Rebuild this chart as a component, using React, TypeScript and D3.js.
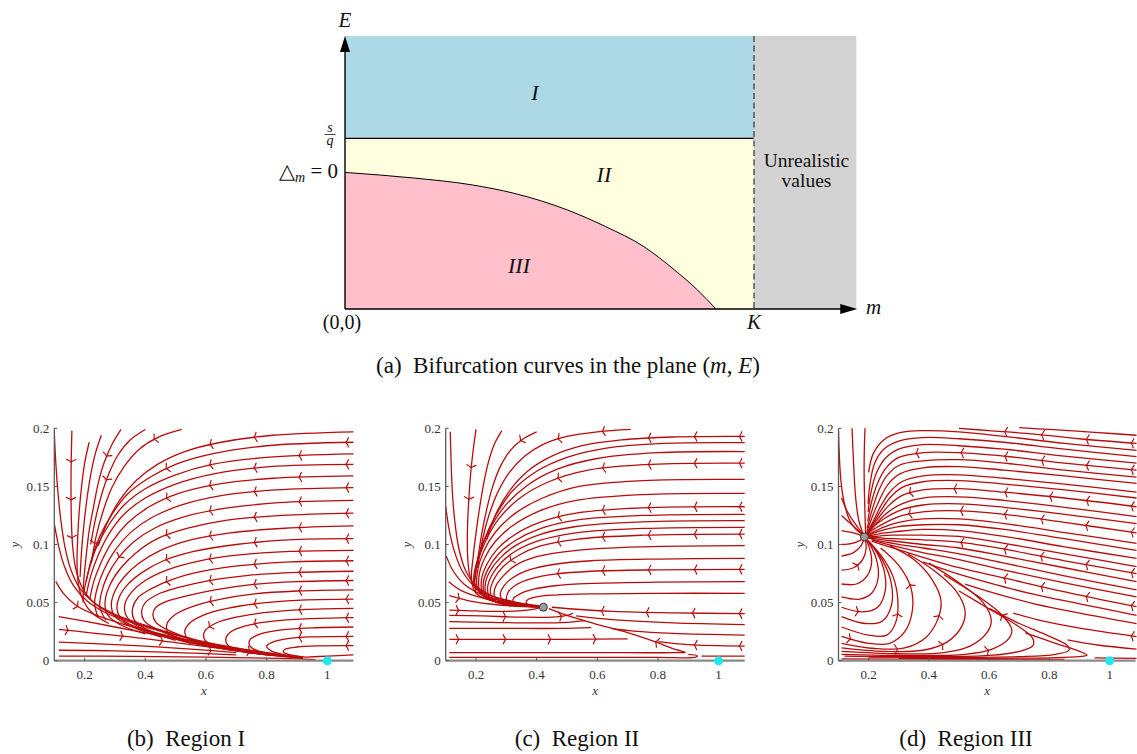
import React, { useEffect, useRef } from 'react';
import * as d3 from 'd3';

type Pt = [number, number];
interface Stream { pts: Pt[]; ax?: number[]; ay?: number[] }

// ---------- (a) bifurcation diagram, plane (m, E) ----------
const mMax = 1.25;
const eMax = 1.6;
const kValue = 1;
const sOverQ = 1;
const deltaCurve: Pt[] = [
  [0, 0.8], [0.17, 0.767], [0.311, 0.727], [0.413, 0.678], [0.544, 0.58],
  [0.637, 0.483], [0.731, 0.365], [0.806, 0.228], [0.862, 0.111], [0.907, 0],
];
const regionNames = ['I', 'II', 'III'];
const regionLabelPos: Pt[] = [[0.4645, 1.224], [0.633, 0.744], [0.4254, 0.211]];

// ---------- (b)-(d) phase portraits ----------
const xDomain: [number, number] = [0.1, 1.086];
const yDomain: [number, number] = [0, 0.2];
const xTicks = [0.2, 0.4, 0.6, 0.8, 1];
const xTickLabels = ['0.2', '0.4', '0.6', '0.8', '1'];
const yTicks = [0, 0.05, 0.1, 0.15, 0.2];
const yTickLabels = ['0', '0.05', '0.1', '0.15', '0.2'];
const boundaryEq: Pt = [1, 0];
const interiorEqII: Pt = [0.422, 0.046];
const interiorEqIII: Pt = [0.186, 0.1065];

const regionILines: Stream[] = [
  { pts: [[1.086, 0.005], [1.0, 0.004], [0.93, 0.003]] },
  { pts: [[1.086, 0.013], [0.97, 0.0128], [0.9, 0.0118], [0.86, 0.0098], [0.855, 0.0075], [0.88, 0.005], [0.93, 0.003]], ax: [1.058] },
  { pts: [[1.086, 0.021], [0.95, 0.0205], [0.87, 0.019], [0.82, 0.016], [0.8, 0.0125], [0.815, 0.0085], [0.86, 0.005], [0.92, 0.003]], ax: [1.058, 0.904] },
  { pts: [[1.086, 0.029], [0.95, 0.0283], [0.85, 0.0265], [0.78, 0.023], [0.745, 0.018], [0.745, 0.0125], [0.78, 0.0075], [0.85, 0.0045], [0.92, 0.0025]], ax: [0.904] },
  { pts: [[1.086, 0.037], [0.93, 0.036], [0.82, 0.034], [0.73, 0.03], [0.68, 0.0245], [0.665, 0.018], [0.68, 0.0115], [0.74, 0.007], [0.83, 0.0045], [0.92, 0.0025]], ax: [1.058, 0.756] },
  { pts: [[1.086, 0.045], [0.92, 0.044], [0.8, 0.0415], [0.7, 0.0375], [0.63, 0.032], [0.595, 0.025], [0.597, 0.0175], [0.63, 0.013], [0.72, 0.008], [0.82, 0.0045], [0.92, 0.0022]], ax: [0.904, 0.608] },
  { pts: [[1.086, 0.053], [0.9, 0.052], [0.78, 0.0495], [0.67, 0.045], [0.59, 0.039], [0.545, 0.032], [0.53, 0.025], [0.545, 0.018], [0.6, 0.0135], [0.7, 0.0085], [0.82, 0.0045], [0.92, 0.002]], ax: [1.058, 0.756] },
  { pts: [[1.086, 0.061], [0.9, 0.06], [0.76, 0.0575], [0.65, 0.053], [0.56, 0.047], [0.5, 0.04], [0.472, 0.032], [0.475, 0.024], [0.52, 0.018], [0.6, 0.013], [0.7, 0.0085], [0.82, 0.0045]], ax: [0.904, 0.608] },
  { pts: [[1.086, 0.069], [0.9, 0.068], [0.75, 0.0655], [0.63, 0.061], [0.54, 0.056], [0.47, 0.051], [0.435, 0.046], [0.425, 0.04], [0.435, 0.033], [0.47, 0.027], [0.56, 0.018], [0.715, 0.0087]], ax: [1.058, 0.756] },
  { pts: [[1.086, 0.077], [0.9, 0.076], [0.74, 0.0735], [0.61, 0.069], [0.51, 0.063], [0.44, 0.057], [0.4, 0.05], [0.388, 0.043], [0.395, 0.035], [0.43, 0.028], [0.52, 0.019], [0.65, 0.011]], ax: [0.904, 0.608] },
  { pts: [[1.086, 0.086], [0.88, 0.085], [0.72, 0.082], [0.59, 0.077], [0.49, 0.07], [0.42, 0.062], [0.375, 0.054], [0.358, 0.045], [0.362, 0.036], [0.39, 0.029], [0.47, 0.021], [0.6, 0.0125]], ax: [1.058, 0.756, 0.465] },
  { pts: [[1.086, 0.095], [0.88, 0.094], [0.71, 0.091], [0.58, 0.086], [0.47, 0.078], [0.4, 0.069], [0.355, 0.059], [0.333, 0.049], [0.335, 0.04], [0.36, 0.032], [0.43, 0.024], [0.55, 0.015]], ax: [0.904, 0.608] },
  { pts: [[1.086, 0.105], [0.87, 0.104], [0.7, 0.1], [0.56, 0.094], [0.46, 0.086], [0.39, 0.076], [0.34, 0.065], [0.313, 0.054], [0.307, 0.044], [0.325, 0.035], [0.39, 0.027], [0.5, 0.0175]], ax: [1.058, 0.756, 0.465] },
  { pts: [[1.086, 0.116], [0.86, 0.114], [0.68, 0.11], [0.55, 0.104], [0.45, 0.095], [0.38, 0.084], [0.33, 0.072], [0.3, 0.06], [0.288, 0.048], [0.3, 0.038], [0.35, 0.03], [0.45, 0.0205]], ax: [0.904, 0.608] },
  { pts: [[1.086, 0.127], [0.85, 0.125], [0.67, 0.121], [0.54, 0.114], [0.44, 0.105], [0.37, 0.093], [0.32, 0.08], [0.285, 0.066], [0.268, 0.052], [0.272, 0.041], [0.31, 0.032], [0.4, 0.023]], ax: [1.058, 0.756, 0.465] },
  { pts: [[1.086, 0.138], [0.84, 0.136], [0.66, 0.131], [0.53, 0.124], [0.43, 0.114], [0.36, 0.102], [0.31, 0.088], [0.275, 0.073], [0.255, 0.058], [0.25, 0.046], [0.27, 0.035]], ax: [0.904, 0.608, 0.311] },
  { pts: [[1.086, 0.149], [0.83, 0.147], [0.65, 0.142], [0.52, 0.134], [0.42, 0.123], [0.35, 0.11], [0.3, 0.095], [0.265, 0.079], [0.242, 0.063], [0.233, 0.049], [0.245, 0.037]], ax: [1.058, 0.756] },
  { pts: [[1.086, 0.159], [0.82, 0.157], [0.64, 0.152], [0.51, 0.144], [0.41, 0.132], [0.34, 0.118], [0.29, 0.102], [0.255, 0.085], [0.23, 0.068], [0.217, 0.053]], ax: [0.904, 0.608, 0.465] },
  { pts: [[1.086, 0.169], [0.81, 0.167], [0.63, 0.161], [0.5, 0.152], [0.4, 0.14], [0.33, 0.126], [0.28, 0.109], [0.245, 0.091], [0.22, 0.073], [0.205, 0.056]], ax: [1.058, 0.756] },
  { pts: [[1.086, 0.178], [0.8, 0.175], [0.62, 0.169], [0.5, 0.16], [0.4, 0.148], [0.33, 0.134], [0.28, 0.117], [0.24, 0.098], [0.215, 0.079], [0.198, 0.06]], ax: [0.904, 0.608] },
  { pts: [[1.086, 0.188], [0.8, 0.185], [0.62, 0.178], [0.5, 0.169], [0.41, 0.157], [0.34, 0.143], [0.29, 0.126], [0.25, 0.107], [0.222, 0.087], [0.205, 0.068]], ax: [1.058, 0.465] },
  { pts: [[1.086, 0.197], [0.82, 0.194], [0.65, 0.188], [0.53, 0.18], [0.44, 0.169], [0.37, 0.155], [0.315, 0.138], [0.275, 0.119], [0.245, 0.099]], ax: [0.756, 0.608] },
  { pts: [[0.52, 0.199], [0.44, 0.192], [0.38, 0.182], [0.33, 0.167], [0.29, 0.149], [0.26, 0.128], [0.237, 0.106], [0.222, 0.084]], ay: [0.19, 0.1] },
  { pts: [[0.4, 0.199], [0.35, 0.19], [0.31, 0.177], [0.28, 0.161], [0.255, 0.142], [0.235, 0.121], [0.22, 0.1]], ay: [0.155] },
  { pts: [[0.32, 0.199], [0.29, 0.186], [0.265, 0.171], [0.245, 0.153], [0.23, 0.133], [0.215, 0.112], [0.205, 0.09], [0.197, 0.068], [0.195, 0.05]], ay: [0.175] },
  { pts: [[0.255, 0.194], [0.235, 0.178], [0.22, 0.16], [0.208, 0.14], [0.198, 0.118], [0.19, 0.095], [0.185, 0.072]] },
  { pts: [[0.215, 0.188], [0.2, 0.17], [0.19, 0.15], [0.182, 0.128], [0.177, 0.105], [0.175, 0.082], [0.18, 0.065], [0.195, 0.052], [0.225, 0.041], [0.28, 0.032]] },
  { pts: [[0.1, 0.197], [0.105, 0.17], [0.112, 0.145], [0.122, 0.12], [0.135, 0.098], [0.155, 0.078], [0.185, 0.062], [0.23, 0.05], [0.3, 0.04], [0.42, 0.029], [0.6, 0.016], [0.85, 0.005]] },
  { pts: [[0.158, 0.198], [0.156, 0.175], [0.155, 0.15], [0.156, 0.125], [0.16, 0.1], [0.17, 0.08], [0.19, 0.064], [0.23, 0.05], [0.3, 0.039], [0.45, 0.026], [0.6, 0.015]], ay: [0.17, 0.137, 0.105] },
  { pts: [[0.1, 0.118], [0.115, 0.098], [0.135, 0.08], [0.165, 0.064], [0.21, 0.051], [0.28, 0.04], [0.4, 0.029], [0.55, 0.019]] },
  { pts: [[0.105, 0.068], [0.13, 0.058], [0.17, 0.048], [0.23, 0.04], [0.32, 0.032], [0.45, 0.023], [0.62, 0.014], [0.82, 0.006]], ax: [0.18] },
  { pts: [[0.115, 0.038], [0.2, 0.034], [0.3, 0.029], [0.42, 0.023], [0.55, 0.017], [0.7, 0.01], [0.85, 0.0045]], ax: [0.75] },
  { pts: [[0.115, 0.027], [0.22, 0.024], [0.35, 0.0205], [0.5, 0.0155], [0.65, 0.0105], [0.78, 0.0065]], ax: [0.15, 0.33, 0.46] },
  { pts: [[0.115, 0.016], [0.25, 0.0145], [0.4, 0.0125], [0.55, 0.01], [0.7, 0.007]], ax: [0.62] },
  { pts: [[0.115, 0.009], [0.3, 0.0085], [0.5, 0.007], [0.7, 0.005]] },
  { pts: [[0.115, 0.004], [0.35, 0.0038], [0.6, 0.003], [0.85, 0.002], [0.96, 0.001]] },
];

const regionIILines: Stream[] = [
  { pts: [[1.086, 0.058], [0.8, 0.058], [0.58, 0.0575], [0.46, 0.0565], [0.4, 0.055], [0.37, 0.0525], [0.365, 0.05], [0.38, 0.0478], [0.41, 0.0467]] },
  { pts: [[1.086, 0.068], [0.8, 0.0677], [0.58, 0.0665], [0.46, 0.0645], [0.39, 0.0615], [0.345, 0.0575], [0.322, 0.053], [0.325, 0.0495], [0.35, 0.0475], [0.41, 0.0466]] },
  { pts: [[1.086, 0.0786], [0.8, 0.0782], [0.58, 0.077], [0.46, 0.0745], [0.38, 0.0705], [0.33, 0.065], [0.305, 0.0585], [0.302, 0.052], [0.325, 0.0485], [0.37, 0.047], [0.41, 0.0466]], ax: [1.065, 0.917, 0.763, 0.614, 0.466] },
  { pts: [[1.086, 0.088], [0.8, 0.0875], [0.58, 0.086], [0.46, 0.083], [0.38, 0.0785], [0.325, 0.072], [0.292, 0.0645], [0.28, 0.0565], [0.295, 0.05], [0.34, 0.0473], [0.41, 0.0466]] },
  { pts: [[1.086, 0.099], [0.752, 0.098], [0.532, 0.095], [0.4, 0.0895], [0.33, 0.082], [0.29, 0.073], [0.265, 0.064], [0.26, 0.056], [0.285, 0.0505], [0.34, 0.0475], [0.41, 0.0466]] },
  { pts: [[1.086, 0.109], [0.75, 0.108], [0.53, 0.1045], [0.41, 0.0985], [0.34, 0.0905], [0.29, 0.081], [0.26, 0.0705], [0.247, 0.06], [0.26, 0.052], [0.31, 0.048], [0.41, 0.0466]], ax: [1.065, 0.917, 0.763, 0.614, 0.466, 0.312] },
  { pts: [[1.086, 0.1148], [0.75, 0.1138], [0.53, 0.11], [0.41, 0.1035], [0.335, 0.095], [0.285, 0.085], [0.252, 0.0735], [0.238, 0.0625], [0.248, 0.0535], [0.3, 0.0485], [0.41, 0.0466]] },
  { pts: [[1.086, 0.1205], [0.75, 0.1195], [0.53, 0.1155], [0.41, 0.1085], [0.33, 0.099], [0.28, 0.0885], [0.245, 0.0765], [0.23, 0.065], [0.238, 0.055], [0.29, 0.049], [0.41, 0.0466]] },
  { pts: [[1.086, 0.126], [0.75, 0.125], [0.53, 0.121], [0.41, 0.1135], [0.33, 0.1035], [0.275, 0.092], [0.24, 0.079], [0.224, 0.067], [0.23, 0.0565], [0.28, 0.0495], [0.41, 0.0466]] },
  { pts: [[1.086, 0.1325], [0.75, 0.1315], [0.53, 0.127], [0.41, 0.119], [0.325, 0.108], [0.27, 0.096], [0.235, 0.0825], [0.218, 0.0695], [0.222, 0.058], [0.27, 0.05], [0.41, 0.0466]], ax: [1.065, 0.917, 0.763, 0.614, 0.466] },
  { pts: [[1.086, 0.144], [0.75, 0.143], [0.53, 0.138], [0.41, 0.129], [0.325, 0.117], [0.265, 0.103], [0.228, 0.088], [0.21, 0.073], [0.213, 0.06], [0.26, 0.051], [0.41, 0.0467]] },
  { pts: [[1.086, 0.156], [0.75, 0.155], [0.54, 0.15], [0.42, 0.14], [0.33, 0.127], [0.265, 0.111], [0.225, 0.094], [0.205, 0.077], [0.205, 0.063], [0.25, 0.052], [0.41, 0.0467]] },
  { pts: [[1.086, 0.17], [0.78, 0.169], [0.57, 0.164], [0.44, 0.154], [0.345, 0.14], [0.275, 0.122], [0.23, 0.102], [0.203, 0.082], [0.197, 0.066], [0.24, 0.053], [0.41, 0.0468]], ax: [1.065, 0.917, 0.763, 0.614, 0.466] },
  { pts: [[1.086, 0.18], [0.8, 0.179], [0.6, 0.174], [0.47, 0.165], [0.37, 0.151], [0.295, 0.133], [0.243, 0.112], [0.208, 0.09], [0.192, 0.07], [0.2, 0.06]] },
  { pts: [[1.086, 0.1876], [0.82, 0.187], [0.63, 0.183], [0.5, 0.175], [0.4, 0.163], [0.32, 0.146], [0.265, 0.125], [0.225, 0.103], [0.2, 0.08]] },
  { pts: [[1.086, 0.193], [0.85, 0.1925], [0.68, 0.19], [0.55, 0.185], [0.45, 0.176], [0.37, 0.163], [0.31, 0.146], [0.265, 0.126], [0.235, 0.104]], ax: [1.065, 0.917, 0.763] },
  { pts: [[0.71, 0.199], [0.6, 0.197], [0.5, 0.193], [0.42, 0.186], [0.36, 0.176], [0.31, 0.162], [0.27, 0.144], [0.24, 0.123], [0.218, 0.1], [0.205, 0.08]], ax: [0.614, 0.466] },
  { pts: [[0.4, 0.197], [0.35, 0.19], [0.31, 0.18], [0.28, 0.167], [0.255, 0.15], [0.235, 0.13], [0.218, 0.108], [0.205, 0.086], [0.195, 0.068]], ax: [0.345] },
  { pts: [[0.285, 0.198], [0.26, 0.186], [0.24, 0.17], [0.225, 0.152], [0.212, 0.132], [0.2, 0.11], [0.19, 0.088], [0.185, 0.07], [0.2, 0.058], [0.26, 0.051], [0.41, 0.0467]] },
  { pts: [[0.2, 0.199], [0.19, 0.18], [0.182, 0.16], [0.176, 0.138], [0.172, 0.115], [0.172, 0.092], [0.18, 0.073], [0.2, 0.062], [0.25, 0.054], [0.33, 0.049], [0.41, 0.0467]], ay: [0.165, 0.138] },
  { pts: [[0.115, 0.197], [0.118, 0.17], [0.122, 0.145], [0.13, 0.12], [0.143, 0.097], [0.165, 0.078], [0.2, 0.064], [0.26, 0.055], [0.34, 0.0495], [0.41, 0.0467]] },
  { pts: [[0.1, 0.133], [0.112, 0.112], [0.13, 0.093], [0.155, 0.077], [0.195, 0.064], [0.25, 0.056], [0.33, 0.0505], [0.4, 0.0475]] },
  { pts: [[0.102, 0.09], [0.125, 0.077], [0.16, 0.066], [0.21, 0.058], [0.28, 0.052], [0.36, 0.048], [0.41, 0.0467]] },
  { pts: [[0.11, 0.068], [0.15, 0.0605], [0.2, 0.0555], [0.27, 0.051], [0.35, 0.048], [0.41, 0.0466]] },
  { pts: [[0.112, 0.056], [0.17, 0.052], [0.24, 0.049], [0.32, 0.047], [0.41, 0.0463]], ax: [0.147] },
  { pts: [[0.112, 0.0436], [0.2, 0.0428], [0.3, 0.0425], [0.37, 0.0435], [0.41, 0.0455]], ax: [0.147] },
  { pts: [[0.112, 0.039], [0.22, 0.0385], [0.35, 0.0375], [0.45, 0.0375], [0.5, 0.039], [0.52, 0.041]], ax: [0.3, 0.487] },
  { pts: [[0.112, 0.0336], [0.25, 0.033], [0.4, 0.0325], [0.5, 0.033], [0.56, 0.0345]] },
  { pts: [[0.112, 0.0278], [0.3, 0.0278], [0.48, 0.0278], [0.58, 0.0285]] },
  { pts: [[0.112, 0.0184], [0.3, 0.0184], [0.5, 0.0184], [0.7, 0.0188]], ax: [0.147, 0.3, 0.45, 0.6] },
  { pts: [[0.112, 0.0069], [0.4, 0.0069], [0.7, 0.0069], [0.86, 0.0069], [0.89, 0.0072], [0.86, 0.0095], [0.78, 0.0172], [0.69, 0.025], [0.59, 0.032], [0.5, 0.039], [0.44, 0.0448]], ay: [0.0164] },
  { pts: [[0.112, 0.0029], [0.5, 0.0029], [0.8, 0.0029], [0.925, 0.003], [0.93, 0.0042], [0.9, 0.0055]] },
  { pts: [[1.086, 0.004], [0.944, 0.004]] },
  { pts: [[1.086, 0.0405], [0.85, 0.0412], [0.65, 0.0425], [0.52, 0.0445], [0.45, 0.046]], ax: [1.065, 0.91, 0.757, 0.61] },
  { pts: [[1.086, 0.031], [0.85, 0.0325], [0.7, 0.0345], [0.6, 0.0365], [0.53, 0.0385]] },
  { pts: [[1.086, 0.022], [0.85, 0.0235], [0.72, 0.0255], [0.647, 0.0278]] },
  { pts: [[1.086, 0.0126], [0.9, 0.0138], [0.801, 0.0164]], ax: [1.065, 0.916] },
];

const regionIIILines: Stream[] = [
  { pts: [[1.089, 0.194], [0.95, 0.1965], [0.8, 0.199], [0.7, 0.2005]] },
  { pts: [[1.089, 0.187], [0.9, 0.191], [0.75, 0.195], [0.6, 0.198], [0.5, 0.2]], ax: [1.067, 0.918, 0.769, 0.647] },
  { pts: [[1.089, 0.181], [0.85, 0.187], [0.65, 0.193], [0.5, 0.197], [0.38, 0.198], [0.3, 0.196], [0.25, 0.19], [0.215, 0.178], [0.2, 0.162]] },
  { pts: [[1.089, 0.1756], [0.85, 0.182], [0.65, 0.188], [0.5, 0.191], [0.38, 0.192], [0.3, 0.189], [0.25, 0.182], [0.22, 0.17], [0.205, 0.153], [0.198, 0.135]] },
  { pts: [[1.089, 0.17], [0.85, 0.176], [0.65, 0.182], [0.5, 0.185], [0.38, 0.186], [0.3, 0.182], [0.255, 0.174], [0.225, 0.161], [0.208, 0.145], [0.198, 0.128]] },
  { pts: [[1.089, 0.164], [0.85, 0.17], [0.65, 0.176], [0.5, 0.179], [0.38, 0.179], [0.3, 0.175], [0.258, 0.166], [0.23, 0.153], [0.21, 0.137], [0.197, 0.12]], ax: [1.067, 0.918, 0.769, 0.647, 0.503, 0.354] },
  { pts: [[1.089, 0.158], [0.85, 0.164], [0.65, 0.17], [0.5, 0.173], [0.38, 0.172], [0.3, 0.168], [0.26, 0.159], [0.233, 0.146], [0.212, 0.13], [0.195, 0.114]] },
  { pts: [[1.089, 0.1526], [0.85, 0.159], [0.65, 0.164], [0.5, 0.167], [0.38, 0.166], [0.305, 0.161], [0.265, 0.152], [0.237, 0.139], [0.214, 0.125], [0.194, 0.111]] },
  { pts: [[1.089, 0.145], [0.85, 0.152], [0.65, 0.157], [0.5, 0.16], [0.38, 0.159], [0.31, 0.154], [0.27, 0.145], [0.24, 0.133], [0.215, 0.12], [0.193, 0.109]] },
  { pts: [[1.089, 0.14], [0.85, 0.147], [0.65, 0.152], [0.5, 0.155], [0.38, 0.154], [0.31, 0.149], [0.27, 0.14], [0.238, 0.128], [0.21, 0.116], [0.192, 0.109]] },
  { pts: [[1.089, 0.1325], [0.85, 0.14], [0.65, 0.145], [0.5, 0.148], [0.38, 0.147], [0.31, 0.142], [0.265, 0.133], [0.23, 0.122], [0.205, 0.113], [0.19, 0.108]], ax: [1.067, 0.918, 0.796, 0.647, 0.481, 0.332] },
  { pts: [[1.089, 0.124], [0.85, 0.132], [0.65, 0.138], [0.5, 0.141], [0.38, 0.14], [0.31, 0.135], [0.26, 0.127], [0.225, 0.118], [0.2, 0.111]] },
  { pts: [[1.089, 0.118], [0.85, 0.126], [0.65, 0.132], [0.5, 0.135], [0.38, 0.134], [0.3, 0.129], [0.25, 0.122], [0.215, 0.115], [0.195, 0.109]] },
  { pts: [[1.089, 0.11], [0.85, 0.119], [0.65, 0.126], [0.5, 0.129], [0.38, 0.128], [0.3, 0.124], [0.25, 0.118], [0.21, 0.112], [0.192, 0.108]], ax: [1.067, 0.918, 0.769, 0.647, 0.503, 0.33] },
  { pts: [[1.089, 0.101], [0.857, 0.11], [0.65, 0.118], [0.5, 0.122], [0.38, 0.122], [0.3, 0.119], [0.25, 0.115], [0.21, 0.11], [0.192, 0.1075]] },
  { pts: [[1.089, 0.095], [0.85, 0.105], [0.65, 0.113], [0.5, 0.117], [0.38, 0.117], [0.29, 0.115], [0.23, 0.111], [0.195, 0.107]] },
  { pts: [[1.089, 0.088], [0.85, 0.098], [0.65, 0.107], [0.5, 0.112], [0.38, 0.113], [0.29, 0.111], [0.23, 0.109], [0.195, 0.107]] },
  { pts: [[1.089, 0.081], [0.85, 0.092], [0.65, 0.101], [0.5, 0.107], [0.38, 0.108], [0.28, 0.108], [0.22, 0.107], [0.195, 0.1065]] },
  { pts: [[1.089, 0.075], [0.85, 0.086], [0.65, 0.096], [0.5, 0.102], [0.38, 0.104], [0.28, 0.105], [0.22, 0.106], [0.195, 0.1065]], ax: [1.067, 0.918, 0.769, 0.647, 0.503] },
  { pts: [[1.089, 0.068], [0.85, 0.08], [0.65, 0.09], [0.5, 0.097], [0.38, 0.1], [0.28, 0.103], [0.22, 0.105], [0.195, 0.106]] },
  { pts: [[1.089, 0.061], [0.85, 0.073], [0.65, 0.084], [0.5, 0.092], [0.38, 0.097], [0.28, 0.101], [0.22, 0.104], [0.195, 0.106]] },
  { pts: [[1.089, 0.055], [0.85, 0.067], [0.65, 0.078], [0.5, 0.087], [0.38, 0.093], [0.28, 0.099], [0.21, 0.104]] },
  { pts: [[1.089, 0.0465], [0.873, 0.058], [0.652, 0.071], [0.5, 0.08], [0.38, 0.089], [0.28, 0.097], [0.21, 0.103]], ax: [1.067, 0.918, 0.769, 0.647] },
  { pts: [[1.089, 0.039], [0.9, 0.049], [0.75, 0.057], [0.6, 0.067], [0.48, 0.076], [0.38, 0.085]] },
  { pts: [[1.089, 0.032], [0.9, 0.041], [0.75, 0.049], [0.62, 0.058], [0.52, 0.066]] },
  { pts: [[1.089, 0.0207], [0.9, 0.028], [0.78, 0.034], [0.68, 0.041]], ax: [1.067] },
  { pts: [[1.089, 0.01], [0.96, 0.0135], [0.86, 0.018]] },
  { pts: [[0.11, 0.09], [0.15, 0.093], [0.175, 0.099], [0.185, 0.105]] },
  { pts: [[0.11, 0.078], [0.15, 0.08], [0.18, 0.087], [0.192, 0.097], [0.188, 0.105]], ax: [0.166] },
  { pts: [[0.11, 0.066], [0.16, 0.066], [0.195, 0.073], [0.21, 0.085], [0.2, 0.099], [0.189, 0.105]] },
  { pts: [[0.11, 0.055], [0.17, 0.053], [0.21, 0.058], [0.232, 0.072], [0.225, 0.088], [0.2, 0.102]] },
  { pts: [[0.11, 0.046], [0.18, 0.042], [0.23, 0.046], [0.255, 0.06], [0.25, 0.079], [0.22, 0.096], [0.19, 0.105]], ax: [0.171] },
  { pts: [[0.11, 0.038], [0.19, 0.032], [0.245, 0.034], [0.275, 0.047], [0.275, 0.067], [0.245, 0.087], [0.2, 0.103]] },
  { pts: [[0.11, 0.029], [0.2, 0.022], [0.26, 0.022], [0.29, 0.033], [0.297, 0.052], [0.28, 0.073], [0.24, 0.091], [0.195, 0.104]], ay: [0.041] },
  { pts: [[0.11, 0.021], [0.2, 0.015], [0.27, 0.015], [0.32, 0.025], [0.345, 0.043], [0.34, 0.063], [0.3, 0.082], [0.24, 0.097]], ax: [0.144], ay: [0.066] },
  { pts: [[0.11, 0.015], [0.22, 0.0105], [0.32, 0.011], [0.39, 0.02], [0.43, 0.036], [0.44, 0.052], [0.41, 0.07], [0.35, 0.087], [0.27, 0.099]], ax: [0.298], ay: [0.04] },
  { pts: [[0.11, 0.011], [0.25, 0.008], [0.38, 0.009], [0.46, 0.016], [0.51, 0.03], [0.52, 0.043], [0.49, 0.06], [0.42, 0.077], [0.33, 0.092]], ax: [0.448] },
  { pts: [[0.11, 0.008], [0.3, 0.006], [0.45, 0.007], [0.54, 0.013], [0.595, 0.025], [0.607, 0.035], [0.58, 0.05], [0.5, 0.067], [0.4, 0.084]] },
  { pts: [[0.11, 0.0055], [0.35, 0.0045], [0.52, 0.0055], [0.61, 0.01], [0.665, 0.019], [0.675, 0.027], [0.64, 0.04], [0.56, 0.056], [0.45, 0.074]], ax: [0.6], ay: [0.04] },
  { pts: [[0.12, 0.004], [0.4, 0.0035], [0.6, 0.0045], [0.7, 0.008], [0.745, 0.013], [0.745, 0.019], [0.7, 0.029], [0.61, 0.043], [0.5, 0.06]] },
  { pts: [[0.2, 0.003], [0.5, 0.0028], [0.7, 0.0035], [0.82, 0.0055], [0.865, 0.009], [0.86, 0.013], [0.8, 0.021], [0.7, 0.032], [0.6, 0.045]] },
  { pts: [[0.3, 0.002], [0.6, 0.002], [0.8, 0.0025], [0.9, 0.0035], [0.925, 0.0048], [0.9, 0.008], [0.82, 0.015], [0.72, 0.024]] },
  { pts: [[0.11, 0.0015], [0.5, 0.0012], [0.85, 0.0012]] },
  { pts: [[1.089, 0.002], [0.95, 0.0025]] },
  { pts: [[0.1, 0.198], [0.103, 0.175], [0.108, 0.155], [0.118, 0.137], [0.135, 0.122], [0.158, 0.113], [0.182, 0.108]] },
  { pts: [[0.145, 0.2], [0.15, 0.17], [0.157, 0.14], [0.168, 0.12], [0.182, 0.109]] },
  { pts: [[0.11, 0.14], [0.13, 0.128], [0.155, 0.118], [0.18, 0.109]] },
  { pts: [[0.11, 0.125], [0.14, 0.118], [0.165, 0.112], [0.183, 0.108]] },
  { pts: [[0.11, 0.112], [0.15, 0.11], [0.182, 0.107]] },
  { pts: [[0.11, 0.1], [0.145, 0.101], [0.175, 0.104], [0.184, 0.106]] },
  { pts: [[0.19, 0.109], [0.188, 0.125], [0.186, 0.145], [0.185, 0.165], [0.186, 0.185], [0.188, 0.2]] },
];

const panels = [
  { lines: regionILines, interior: null as Pt | null, left: 54.3, right: 353.4, cx: 186, caption: '(b)  Region I' },
  { lines: regionIILines, interior: interiorEqII, left: 445.7, right: 744.7, cx: 577, caption: '(c)  Region II' },
  { lines: regionIIILines, interior: interiorEqIII, left: 838.5, right: 1135.6, cx: 966, caption: '(d)  Region III' },
];

const RED = '#b80c0c';
const SERIF = '"Liberation Serif", serif';
const TOP = 428.3;
const BOTTOM = 660.7;

export default function App() {
  const ref = useRef<SVGSVGElement | null>(null);

  useEffect(() => {
    const svg = d3.select(ref.current);
    svg.selectAll('*').remove();
    const defs = svg.append('defs');

    // ---------- (a) ----------
    const m = d3.scaleLinear().domain([0, mMax]).range([345, 856.25]);
    const e = d3.scaleLinear().domain([0, eMax]).range([309, 35.9]);
    const ga = svg.append('g');
    ga.append('rect').attr('x', m(0)).attr('y', e(eMax)).attr('width', m(kValue) - m(0))
      .attr('height', e(sOverQ) - e(eMax)).attr('fill', '#add8e6');
    ga.append('rect').attr('x', m(0)).attr('y', e(sOverQ)).attr('width', m(kValue) - m(0))
      .attr('height', e(0) - e(sOverQ)).attr('fill', '#ffffe0');
    const area = d3.area<Pt>().x(d => m(d[0])).y0(e(0)).y1(d => e(d[1])).curve(d3.curveMonotoneX);
    ga.append('path').attr('d', area(deltaCurve)).attr('fill', '#ffc0cb');
    ga.append('rect').attr('x', m(kValue)).attr('y', e(eMax)).attr('width', m(mMax) - m(kValue))
      .attr('height', e(0) - e(eMax)).attr('fill', '#d3d3d3');
    ga.append('line').attr('x1', m(0)).attr('x2', m(kValue)).attr('y1', e(sOverQ)).attr('y2', e(sOverQ))
      .attr('stroke', '#000').attr('stroke-width', 1.2);
    const curve = d3.line<Pt>().x(d => m(d[0])).y(d => e(d[1])).curve(d3.curveMonotoneX);
    ga.append('path').attr('d', curve(deltaCurve)).attr('fill', 'none').attr('stroke', '#000').attr('stroke-width', 1);
    ga.append('line').attr('x1', m(kValue)).attr('x2', m(kValue)).attr('y1', e(eMax)).attr('y2', e(0))
      .attr('stroke', '#222').attr('stroke-width', 1.1).attr('stroke-dasharray', '6,3.5');
    // axes with arrow heads
    ga.append('line').attr('x1', m(0)).attr('x2', m(0)).attr('y1', e(0)).attr('y2', e(eMax) + 14)
      .attr('stroke', '#000').attr('stroke-width', 1.4);
    ga.append('path').attr('d', `M${m(0) - 5},${e(eMax) + 16}L${m(0) + 5},${e(eMax) + 16}L${m(0)},${e(eMax)}Z`).attr('fill', '#000');
    ga.append('line').attr('x1', m(0)).attr('x2', m(mMax) - 14).attr('y1', e(0)).attr('y2', e(0))
      .attr('stroke', '#000').attr('stroke-width', 1.4);
    ga.append('path').attr('d', `M${m(mMax) - 16},${e(0) - 5}L${m(mMax) - 16},${e(0) + 5}L${m(mMax) + 1},${e(0)}Z`).attr('fill', '#000');

    const txt = (g: any, x: number, y: number, s: string, size: number, opts: any = {}) =>
      g.append('text').attr('x', x).attr('y', y).text(s)
        .style('font-family', SERIF).attr('font-size', size)
        .attr('font-style', opts.italic ? 'italic' : 'normal')
        .attr('text-anchor', opts.anchor ?? 'middle').attr('fill', opts.fill ?? '#111');

    regionNames.forEach((n, i) => txt(ga, m(regionLabelPos[i][0]), e(regionLabelPos[i][1]), n, 22, { italic: true }));
    txt(ga, m(0), 27, 'E', 21, { italic: true });
    txt(ga, 330, 132, 's', 14, { italic: true });
    ga.append('line').attr('x1', 324.5).attr('x2', 335.5).attr('y1', 134.5).attr('y2', 134.5).attr('stroke', '#111').attr('stroke-width', 0.8);
    txt(ga, 330, 145, 'q', 14, { italic: true });
    const dl = ga.append('text').attr('x', 338).attr('y', e(0.8) + 6).attr('text-anchor', 'end')
      .style('font-family', SERIF).attr('font-size', 21).attr('fill', '#111');
    dl.append('tspan').text('△').style('font-family', '"DejaVu Sans", sans-serif').attr('font-size', 21);
    dl.append('tspan').text('m').attr('font-style', 'italic').attr('font-size', 14).attr('dy', 4);
    dl.append('tspan').text(' = 0').attr('dy', -4);
    txt(ga, m(0) - 3, 329, '(0,0)', 20);
    txt(ga, m(kValue), 329, 'K', 21, { italic: true });
    txt(ga, 866, 314, 'm', 21, { italic: true, anchor: 'start' });
    txt(ga, 806.5, 167, 'Unrealistic', 19.5);
    txt(ga, 806.5, 187, 'values', 19.5);

    const cap = (x: number, y: number, parts: [string, boolean][]) => {
      const t = svg.append('text').attr('x', x).attr('y', y).attr('text-anchor', 'middle')
        .style('font-family', SERIF).attr('font-size', 23).attr('fill', '#111').style('white-space', 'pre');
      parts.forEach(([s, it]) => t.append('tspan').text(s).attr('font-style', it ? 'italic' : 'normal'));
    };
    cap(568, 373, [['(a)  Bifurcation curves in the plane (', false], ['m', true], [', ', false], ['E', true], [')', false]]);

    // ---------- (b)-(d) ----------
    panels.forEach((p, pi) => {
      const x = d3.scaleLinear().domain(xDomain).range([p.left, p.right]);
      const y = d3.scaleLinear().domain(yDomain).range([BOTTOM, TOP]);
      const clipId = `pclip${pi}`;
      defs.append('clipPath').attr('id', clipId).append('rect')
        .attr('x', p.left).attr('y', TOP - 2).attr('width', p.right - p.left + 3).attr('height', BOTTOM - TOP + 3);
      const g = svg.append('g');
      const lg = g.append('g').attr('clip-path', `url(#${clipId})`);
      const lineGen = d3.line<Pt>().x(d => x(d[0])).y(d => y(d[1])).curve(d3.curveCatmullRom.alpha(0.5));

      p.lines.forEach(s => {
        const path = lg.append('path').attr('d', lineGen(s.pts)).attr('fill', 'none')
          .attr('stroke', RED).attr('stroke-width', 1.3);
        const node = path.node() as SVGPathElement;
        const len = node.getTotalLength();
        const samples: Pt[] = [];
        for (let l = 0; l <= len; l += 1) {
          const q = node.getPointAtLength(l);
          samples.push([q.x, q.y]);
        }
        const chevron = (i: number) => {
          const a = samples[Math.max(0, i - 3)];
          const b = samples[Math.min(samples.length - 1, i + 3)];
          const ang = Math.atan2(b[1] - a[1], b[0] - a[0]);
          const tip = samples[i];
          const L = 6, th = 1.0;
          const a1 = [tip[0] - L * Math.cos(ang - th), tip[1] - L * Math.sin(ang - th)];
          const a2 = [tip[0] - L * Math.cos(ang + th), tip[1] - L * Math.sin(ang + th)];
          const c = [tip[0] - 1.2 * Math.cos(ang), tip[1] - 1.2 * Math.sin(ang)];
          lg.append('path').attr('d', `M${a1[0]},${a1[1]}Q${c[0]},${c[1]} ${tip[0]},${tip[1]}Q${c[0]},${c[1]} ${a2[0]},${a2[1]}`)
            .attr('fill', 'none').attr('stroke', RED).attr('stroke-width', 1.2);
        };
        const cross = (target: number, k: 0 | 1) => {
          for (let i = 0; i < samples.length - 1; i++) {
            if ((samples[i][k] - target) * (samples[i + 1][k] - target) <= 0) { chevron(i); return; }
          }
        };
        (s.ax ?? []).forEach(v => cross(x(v), 0));
        (s.ay ?? []).forEach(v => cross(y(v), 1));
      });

      // axes
      g.append('line').attr('x1', p.left).attr('x2', p.left).attr('y1', TOP).attr('y2', BOTTOM)
        .attr('stroke', '#5a5a5a').attr('stroke-width', 1.3);
      g.append('line').attr('x1', p.left).attr('x2', p.right).attr('y1', BOTTOM).attr('y2', BOTTOM)
        .attr('stroke', '#8a8a8a').attr('stroke-width', 2.2);
      xTicks.forEach((v, i) => {
        g.append('line').attr('x1', x(v)).attr('x2', x(v)).attr('y1', BOTTOM).attr('y2', BOTTOM - 3)
          .attr('stroke', '#555').attr('stroke-width', 1);
        txt(g, x(v), 679, xTickLabels[i], 13, { fill: '#333' });
      });
      yTicks.forEach((v, i) => {
        g.append('line').attr('x1', p.left).attr('x2', p.left + 3).attr('y1', y(v)).attr('y2', y(v))
          .attr('stroke', '#555').attr('stroke-width', 1);
        txt(g, p.left - 5, y(v) + 4.5, yTickLabels[i], 13, { fill: '#333', anchor: 'end' });
      });
      txt(g, (p.left + p.right) / 2, 695, 'x', 13, { italic: true, fill: '#333' });
      g.append('text').attr('transform', `translate(${p.left - 35},${(TOP + BOTTOM) / 2}) rotate(-90)`)
        .attr('text-anchor', 'middle').style('font-family', SERIF).attr('font-size', 13)
        .attr('font-style', 'italic').attr('fill', '#333').text('y');

      // equilibria
      if (p.interior) {
        g.append('circle').attr('cx', x(p.interior[0])).attr('cy', y(p.interior[1])).attr('r', 4)
          .attr('fill', '#9a9a9a').attr('stroke', '#333').attr('stroke-width', 1);
      }
      g.append('circle').attr('cx', x(boundaryEq[0])).attr('cy', y(boundaryEq[1])).attr('r', 4.5)
        .attr('fill', '#22e8ee');

      cap(p.cx, 746, [[p.caption, false]]);
    });

    return () => { svg.selectAll('*').remove(); };
  }, []);

  return (
    <svg ref={ref} width={1137} height={754}
      style={{ position: 'absolute', left: 0, top: 0, background: '#fff' }} />
  );
}
